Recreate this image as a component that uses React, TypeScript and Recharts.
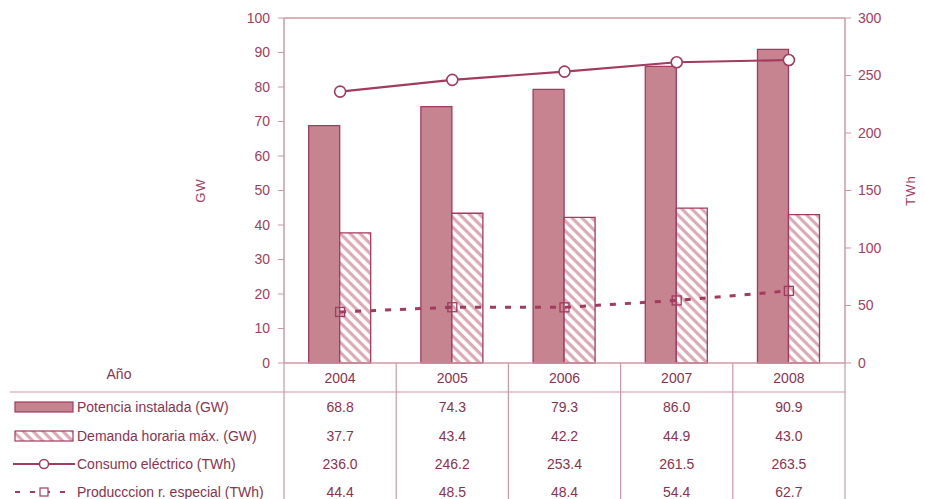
import {
  ComposedChart,
  Bar,
  Line,
  XAxis,
  YAxis,
  ReferenceLine,
} from 'recharts'

const years = ['2004', '2005', '2006', '2007', '2008']
const potencia = [68.8, 74.3, 79.3, 86.0, 90.9]
const demanda = [37.7, 43.4, 42.2, 44.9, 43.0]
const consumo = [236.0, 246.2, 253.4, 261.5, 263.5]
const produccion = [44.4, 48.5, 48.4, 54.4, 62.7]

const gwTicks = [0, 10, 20, 30, 40, 50, 60, 70, 80, 90, 100]
const twhTicks = [0, 50, 100, 150, 200, 250, 300]

const seriesNames = [
  'Potencia instalada (GW)',
  'Demanda horaria máx. (GW)',
  'Consumo eléctrico (TWh)',
  'Producccion r. especial (TWh)',
]

const W = 925
const H = 499
const M_LEFT = 224
const M_RIGHT = 20
const AXIS_W = 60
const PLOT_W = W - M_LEFT - M_RIGHT - AXIS_W * 2
const BAND = PLOT_W / years.length

const DARK = '#a33a5f'
const FILL = '#c5848f'
const LIGHT = '#cf97a4'
const TEXT = '#a2405f'
const TABLE_TEXT = '#8a3350'
const FONT = '"Liberation Sans", Arial, sans-serif'

const data = years.map((year, i) => ({
  year,
  potencia: potencia[i],
  demanda: demanda[i],
  consumo: consumo[i],
  produccion: produccion[i],
}))

const tableRows = [potencia, demanda, consumo, produccion]
const rowOffsets = [44, 73, 101, 129]

function LegendSymbol({ row, y }: { row: number; y: number }) {
  const x0 = 15
  const x1 = 73
  if (row === 0)
    return <rect x={x0} y={y - 5} width={x1 - x0} height={10} fill={FILL} stroke={DARK} strokeWidth={1.2} />
  if (row === 1)
    return <rect x={x0} y={y - 5} width={x1 - x0} height={10} fill="url(#hatch)" stroke={DARK} strokeWidth={1.2} />
  if (row === 2)
    return (
      <g>
        <line x1={x0 - 2} x2={x1 + 2} y1={y} y2={y} stroke={DARK} strokeWidth={2} />
        <circle cx={(x0 + x1) / 2} cy={y} r={4.5} fill="#fff" stroke={DARK} strokeWidth={1.5} />
      </g>
    )
  return (
    <g>
      <line x1={x0} x2={x1 + 2} y1={y} y2={y} stroke={DARK} strokeWidth={2} strokeDasharray="5 10" />
      <rect x={(x0 + x1) / 2 - 4} y={y - 4} width={8} height={8} fill="#fff" stroke={DARK} strokeWidth={1.2} />
    </g>
  )
}

function TableTick(props: any) {
  const { x, y, payload, index } = props
  const left = x - BAND / 2
  const right = x + BAND / 2
  const last = index === years.length - 1
  return (
    <g fontFamily={FONT} fontSize={14}>
      <line x1={left} x2={left} y1={y} y2={H} stroke={LIGHT} strokeWidth={1.2} />
      {last && <line x1={right} x2={right} y1={y} y2={H} stroke={LIGHT} strokeWidth={1.2} />}
      <line x1={index === 0 ? 10 : left} x2={right} y1={y + 29} y2={y + 29} stroke={LIGHT} strokeWidth={1.2} />
      <text x={x} y={y + 20} textAnchor="middle" fill={TABLE_TEXT}>
        {payload.value}
      </text>
      {tableRows.map((vals, r) => (
        <text key={r} x={x} y={y + rowOffsets[r] + 5} textAnchor="middle" fill={TABLE_TEXT}>
          {vals[index].toFixed(1)}
        </text>
      ))}
      {index === 0 && (
        <g>
          <text x={119} y={y + 16} textAnchor="middle" fill={TABLE_TEXT}>
            Año
          </text>
          {seriesNames.map((name, r) => (
            <g key={name}>
              <LegendSymbol row={r} y={y + rowOffsets[r]} />
              <text x={77} y={y + rowOffsets[r] + 5} fill={TABLE_TEXT}>
                {name}
              </text>
            </g>
          ))}
        </g>
      )}
    </g>
  )
}

function AxisTitle({ viewBox, value, dx }: any) {
  const cx = viewBox.x + dx
  const cy = viewBox.y + viewBox.height / 2
  return (
    <text
      x={cx}
      y={cy}
      transform={`rotate(-90 ${cx} ${cy})`}
      textAnchor="middle"
      dominantBaseline="central"
      fill={TEXT}
      fontFamily={FONT}
      fontSize={13}
      letterSpacing={1}
    >
      {value}
    </text>
  )
}

function SquareDot(props: any) {
  const { cx, cy } = props
  return <rect x={cx - 4.5} y={cy - 4.5} width={9} height={9} fill="none" stroke={DARK} strokeWidth={1.3} />
}

export default function App() {
  const tick = { fill: TEXT, fontSize: 14, fontFamily: FONT }
  return (
    <div style={{ position: 'absolute', left: 0, top: 0, width: W, height: H, background: '#fff' }}>
      <ComposedChart
        width={W}
        height={H}
        data={data}
        margin={{ top: 18, right: M_RIGHT, left: M_LEFT, bottom: 0 }}
        barCategoryGap="22%"
        barGap={0}
      >
        <defs>
          <pattern id="hatch" width="7" height="7" patternUnits="userSpaceOnUse" patternTransform="rotate(45)">
            <rect width="7" height="7" fill="#fff" />
            <rect width="7" height="3.2" fill="#dcaab5" />
          </pattern>
        </defs>
        <XAxis
          dataKey="year"
          height={136}
          tickSize={0}
          tickMargin={0}
          axisLine={{ stroke: LIGHT, strokeWidth: 1.5 }}
          tickLine={false}
          tick={<TableTick />}
          interval={0}
        />
        <YAxis
          yAxisId="gw"
          width={AXIS_W}
          domain={[0, 100]}
          ticks={gwTicks}
          tickSize={6}
          tickMargin={8}
          axisLine={{ stroke: LIGHT, strokeWidth: 1.5 }}
          tickLine={{ stroke: LIGHT }}
          tick={tick}
          label={<AxisTitle value="GW" dx={-24} />}
        />
        <YAxis
          yAxisId="twh"
          orientation="right"
          width={AXIS_W}
          domain={[0, 300]}
          ticks={twhTicks}
          tickSize={6}
          tickMargin={7}
          axisLine={{ stroke: LIGHT, strokeWidth: 1.5 }}
          tickLine={{ stroke: LIGHT }}
          tick={tick}
          label={<AxisTitle value="TWh" dx={65} />}
        />
        <ReferenceLine yAxisId="gw" y={100} stroke={LIGHT} strokeWidth={1.5} />
        <Bar yAxisId="gw" dataKey="potencia" fill={FILL} stroke={DARK} strokeWidth={1.3} isAnimationActive={false} />
        <Bar yAxisId="gw" dataKey="demanda" fill="url(#hatch)" stroke={DARK} strokeWidth={1.3} isAnimationActive={false} />
        <Line
          yAxisId="twh"
          dataKey="consumo"
          type="linear"
          stroke={DARK}
          strokeWidth={2.2}
          dot={{ r: 5.5, fill: '#fff', stroke: DARK, strokeWidth: 1.6 }}
          isAnimationActive={false}
        />
        <Line
          yAxisId="twh"
          dataKey="produccion"
          type="linear"
          stroke={DARK}
          strokeWidth={3}
          strokeDasharray="6 9"
          dot={<SquareDot />}
          isAnimationActive={false}
        />
      </ComposedChart>
    </div>
  )
}
